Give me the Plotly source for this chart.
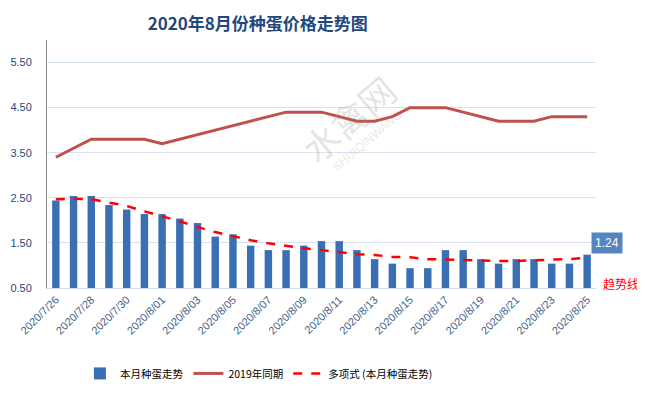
import plotly.graph_objects as go

dates = ["2020/7/26", "2020/7/27", "2020/7/28", "2020/7/29", "2020/7/30", "2020/7/31",
         "2020/8/01", "2020/8/02", "2020/8/03", "2020/8/04", "2020/8/05", "2020/8/06",
         "2020/8/07", "2020/8/08", "2020/8/09", "2020/8/10", "2020/8/11", "2020/8/12",
         "2020/8/13", "2020/8/14", "2020/8/15", "2020/8/16", "2020/8/17", "2020/8/18",
         "2020/8/19", "2020/8/20", "2020/8/21", "2020/8/22", "2020/8/23", "2020/8/24",
         "2020/8/25"]

price_2020 = [2.44, 2.54, 2.54, 2.34, 2.24, 2.14, 2.14, 2.04, 1.94, 1.64, 1.69,
              1.44, 1.34, 1.34, 1.44, 1.54, 1.54, 1.34, 1.14, 1.04, 0.94, 0.94,
              1.34, 1.34, 1.14, 1.04, 1.14, 1.14, 1.04, 1.04, 1.24]

price_2019 = [3.4, 3.6, 3.8, 3.8, 3.8, 3.8, 3.7, 3.8, 3.9, 4.0, 4.1, 4.2, 4.3,
              4.4, 4.4, 4.4, 4.3, 4.2, 4.2, 4.3, 4.5, 4.5, 4.5, 4.4, 4.3, 4.2,
              4.2, 4.2, 4.3, 4.3, 4.3]

trend_2020 = [2.47, 2.48, 2.47, 2.40, 2.32, 2.20, 2.09, 1.98, 1.85, 1.74, 1.65,
              1.56, 1.49, 1.43, 1.38, 1.34, 1.29, 1.25, 1.23, 1.19, 1.18, 1.14,
              1.13, 1.12, 1.10, 1.10, 1.10, 1.12, 1.13, 1.14, 1.17]

tick_labels = dates[::2]
y_ticks = [0.5, 1.5, 2.5, 3.5, 4.5, 5.5]

fig = go.Figure()
fig.add_trace(go.Bar(x=dates, y=[v - 0.5 for v in price_2020], base=0.5,
                     name="本月种蛋走势", width=0.42,
                     marker=dict(color="#3a6fb3", line=dict(width=0)),
                     hoverinfo="skip"))
fig.add_trace(go.Scatter(x=dates, y=price_2019, name="2019年同期", mode="lines",
                         line=dict(color="#c0504d", width=3)))
fig.add_trace(go.Scatter(x=dates, y=trend_2020, name="多项式 (本月种蛋走势)", mode="lines",
                         line=dict(color="#ff0000", width=2.5, dash="dash")))

fig.add_annotation(x=dates[-1], y=price_2020[-1], xref="x", yref="y",
                   text="1.24", showarrow=False, xshift=20, yshift=12,
                   bgcolor="#5585c0", font=dict(color="white", size=12, family="Liberation Sans"),
                   borderpad=3)
fig.add_annotation(x=dates[-1], y=0.6, xref="x", yref="y", text="趋势线",
                   showarrow=False, xshift=34,
                   font=dict(color="#ff0000", size=12, family="Noto Sans CJK SC"))
# watermark
fig.add_annotation(x=0.548, y=0.685, xref="paper", yref="paper", text="水禽网",
                   showarrow=False, textangle=-40, xanchor="center", yanchor="middle",
                   font=dict(color="rgba(150,150,150,0.25)", size=36, family="Noto Sans CJK SC"))
fig.add_annotation(x=0.583, y=0.593, xref="paper", yref="paper", text="SHUIQINWANG",
                   showarrow=False, textangle=-40, xanchor="center", yanchor="middle",
                   font=dict(color="rgba(150,150,150,0.22)", size=12, family="Liberation Sans"))

fig.update_layout(
    width=637, height=386,
    margin=dict(l=39, r=49, t=32, b=106, autoexpand=False),
    paper_bgcolor="white", plot_bgcolor="white",
    title=dict(text="<b>2020年8月份种蛋价格走势图</b>", x=0.392, xanchor="center",
               y=0.9585, yanchor="middle",
               font=dict(size=17, color="#1f497d", family="Noto Sans CJK SC")),
    bargap=0.58,
    showlegend=True,
    legend=dict(orientation="h", x=0.386, xanchor="center", y=-0.286, yanchor="top",
                font=dict(size=10.5, color="black", family="Noto Sans CJK SC"),
                itemwidth=30, tracegroupgap=0),
    xaxis=dict(type="category", categoryorder="array", categoryarray=dates,
               tickmode="array", tickvals=tick_labels, ticktext=tick_labels,
               tickangle=-45, tickfont=dict(size=11, color="#3f5f8a", family="Liberation Sans"),
               showgrid=False, showline=True, linecolor="#d0dcea", linewidth=1,
               ticks="", range=[-0.5, 30.5], automargin=False),
    yaxis=dict(range=[0.5, 6.0], tickmode="array", tickvals=y_ticks,
               ticktext=["%.2f" % v for v in y_ticks],
               tickfont=dict(size=11, color="#1f497d", family="Liberation Sans"),
               showgrid=True, gridcolor="#d6e2f0", gridwidth=1,
               showline=True, linecolor="#888888", linewidth=1, zeroline=False,
               ticks="", ticklabelstandoff=12, automargin=False),
)

fig.write_html("out.html")
